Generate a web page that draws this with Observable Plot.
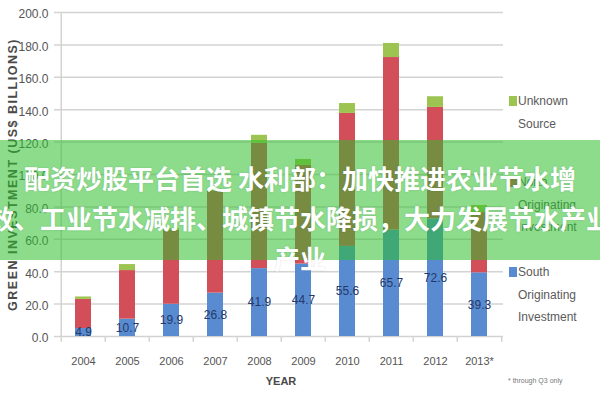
<!DOCTYPE html>
<html><head><meta charset="utf-8">
<script src="https://cdn.jsdelivr.net/npm/d3@7"></script>
<script src="https://cdn.jsdelivr.net/npm/@observablehq/plot@0.6"></script>
<style>
html,body{margin:0;padding:0;background:#fff;width:600px;height:400px;overflow:hidden;}
#wrap{position:relative;width:600px;height:400px;overflow:hidden;}
#chart svg{display:block;}
#legend{position:absolute;left:509px;top:0;width:91px;height:400px;font-family:"Liberation Sans",Arial,sans-serif;font-size:12px;color:#5a5a5a;}
#legend .sw{position:absolute;left:0;width:8px;height:10px;}
#legend .line{position:absolute;left:9px;white-space:nowrap;line-height:14px;}
#note{position:absolute;left:508px;top:377px;font-family:"Liberation Sans",Arial,sans-serif;font-size:7px;color:#777;white-space:nowrap;}
#banner{position:absolute;left:0;top:140px;width:600px;height:120px;background:rgba(46,191,46,0.55);}
#bannerText{position:absolute;left:-200px;top:158px;width:1000px;text-align:center;font-family:"Noto Sans CJK SC",sans-serif;font-weight:bold;font-size:26px;line-height:40px;color:#fff;white-space:pre;text-shadow:0 0 2px rgba(0,0,0,0.15);}
</style></head>
<body>
<div id="wrap"><div id="chart"></div><div id="legend"></div><div id="note"></div><div id="banner"></div><div id="bannerText"></div></div>
<script>
const years = ["2004","2005","2006","2007","2008","2009","2010","2011","2012","2013*"];
const southValues = [4.9,10.7,19.9,26.8,41.9,44.7,55.6,65.7,72.6,39.3];
const northValues = [18.0,30.0,45.6,63.0,77.3,60.9,82.1,106.5,68.8,37.2];
const unknownValues = [1.5,3.7,1.0,1.0,5.0,3.7,6.1,8.7,6.6,4.4];
const seriesNames = ["South Originating Investment","North Originating Investment","Unknown Source"];
const seriesColors = ["#588bd0","#d24f5a","#9dc451"];
const yTicks = [0,20,40,60,80,100,120,140,160,180,200];
const yLabel = "GREEN INVESTMENT (US$ BILLIONS)";
const xLabel = "YEAR";
const footnote = "* through Q3 only";
const legendEntries = [
  {name:"Unknown Source", lines:["Unknown","Source"], color:seriesColors[2], top:94},
  {name:"North Originating Investment", lines:["North","Originating","Investment"], color:seriesColors[1], top:175},
  {name:"South Originating Investment", lines:["South","Originating","Investment"], color:seriesColors[0], top:265}
];
const titleLines = ["配资炒股平台首选 水利部：加快推进农业节水增","效、工业节水减排、城镇节水降损，大力发展节水产业","产业"];

const W = 600, H = 400, mL = 58, mR = 97, mT = 12, mB = 64;
const step = (W - mL - mR) / years.length;

const rows = years.flatMap((yr, i) => [
  {year: yr, series: seriesNames[0], value: southValues[i]},
  {year: yr, series: seriesNames[1], value: northValues[i]},
  {year: yr, series: seriesNames[2], value: unknownValues[i]}
]);
const labels = years.map((yr, i) => ({year: yr, v: southValues[i]}));
const grey = "#d3d3d3";

const chart = Plot.plot({
  width: W, height: H, marginLeft: mL, marginRight: mR, marginTop: mT, marginBottom: mB,
  style: {fontFamily: "'Liberation Sans', Arial, sans-serif", fontSize: "11px", color: "#555", background: "transparent"},
  x: {domain: years, paddingInner: 0.64, paddingOuter: 0.32, label: null},
  y: {domain: [0, 200], label: null},
  color: {domain: seriesNames, range: seriesColors},
  marks: [
    Plot.ruleY(yTicks, {stroke: grey, strokeWidth: 1.5, insetLeft: -4}),
    Plot.ruleX([years[0]], {dx: -step / 2, y1: 0, y2: 200, stroke: grey, strokeWidth: 1.5}),
    Plot.ruleX(years, {dx: -step / 2, y1: -3.5, y2: 0, stroke: grey, strokeWidth: 1.5}),
    Plot.ruleX([years[years.length - 1]], {dx: step / 2, y1: -3.5, y2: 0, stroke: grey, strokeWidth: 1.5}),
    Plot.barY(rows, {x: "year", y: "value", fill: "series"}),
    Plot.text(labels, {x: "year", y: d => d.v / 2, text: d => d.v.toFixed(1), fill: "#25396a", fontSize: 12}),
    Plot.axisY({ticks: yTicks, tickFormat: d => d.toFixed(1), tickSize: 0, tickPadding: 10, fontSize: 12, dy: 2, label: null}),
    Plot.axisX({tickSize: 0, tickPadding: 21, fontSize: 11, label: null}),
    Plot.text([yLabel], {frameAnchor: "left", textAnchor: "middle", lineAnchor: "middle", text: d => d, rotate: -90, dx: -46, fontSize: 12.5, fontWeight: "bold", fill: "#4a4a4a"}),
    Plot.text([xLabel], {frameAnchor: "bottom", textAnchor: "middle", text: d => d, dy: 48, fontSize: 11, fontWeight: "bold", fill: "#4a4a4a"})
  ]
});
chart.querySelectorAll("text").forEach(t => { if (t.textContent === yLabel) t.style.letterSpacing = "1.5px"; });
document.getElementById("chart").appendChild(chart);

const lg = document.getElementById("legend");
legendEntries.forEach(e => {
  const sw = document.createElement("div");
  sw.className = "sw"; sw.style.top = (e.top + 2) + "px"; sw.style.background = e.color;
  lg.appendChild(sw);
  e.lines.forEach((t, k) => {
    const d = document.createElement("div");
    d.className = "line"; d.style.top = (e.top + k * 22.5) + "px"; d.textContent = t;
    lg.appendChild(d);
  });
});
document.getElementById("note").textContent = footnote;
document.getElementById("bannerText").textContent = titleLines.join("\n");
</script>
</body></html>
